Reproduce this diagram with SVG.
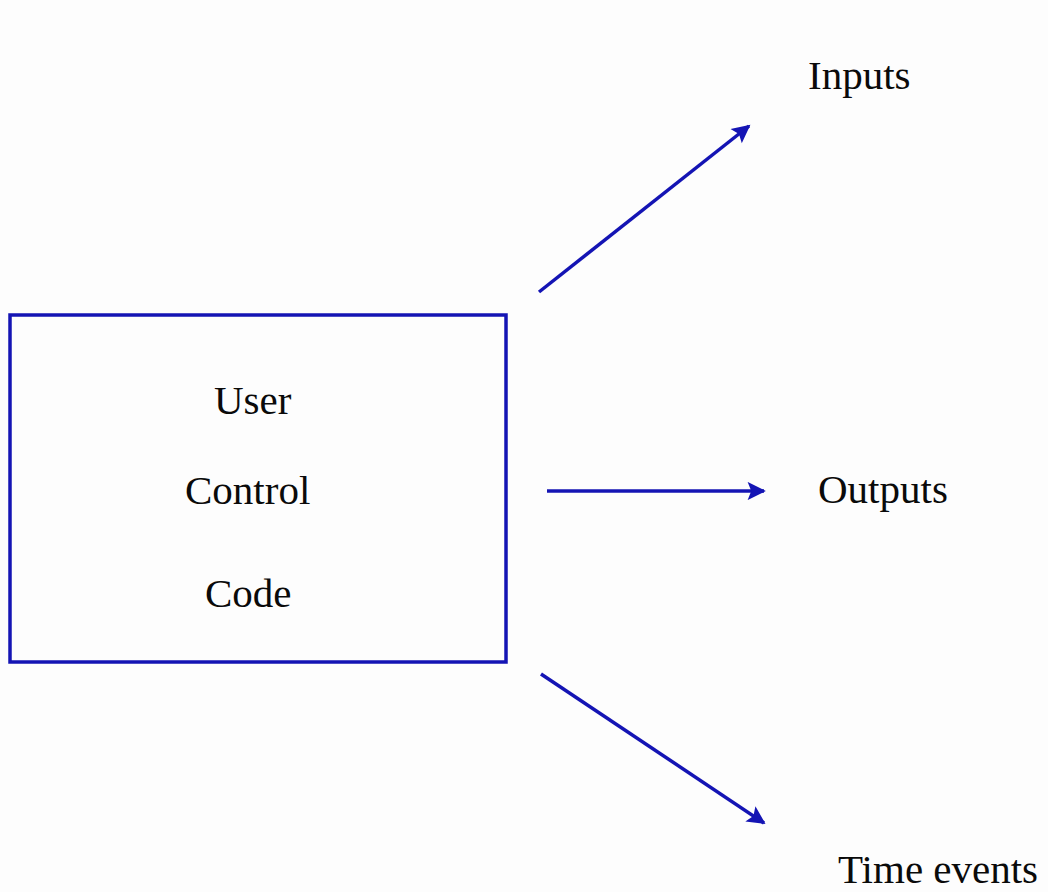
<svg xmlns="http://www.w3.org/2000/svg" width="1048" height="892" viewBox="0 0 1048 892">
  <style>
    .lbl { font-family: "Liberation Serif", "Times New Roman", serif; font-size: 41px; fill: #0a0a0a; }
    .box { fill: none; stroke: #1414b4; stroke-width: 3.5; }
    .conn { stroke: #1414b4; stroke-width: 3.5; fill: none; }
  </style>
  <defs>
    <marker id="arr" viewBox="0 0 10 10" refX="9" refY="5" markerWidth="6.2" markerHeight="5.2" markerUnits="strokeWidth" orient="auto">
      <path d="M0,0 L10,5 L0,10 L2,5 Z" fill="#1414b4"/>
    </marker>
  </defs>
  <rect width="1048" height="892" fill="#fdfdfd"/>
  <g id="node-control">
    <rect class="box" x="10" y="315" width="496" height="347"/>
    <text class="lbl" x="214" y="414">User</text>
    <text class="lbl" x="185" y="504">Control</text>
    <text class="lbl" x="205" y="607">Code</text>
  </g>
  <g id="node-inputs">
    <text class="lbl" x="808" y="89">Inputs</text>
  </g>
  <g id="node-outputs">
    <text class="lbl" x="818" y="503">Outputs</text>
  </g>
  <g id="node-time">
    <text class="lbl" x="838" y="883">Time events</text>
  </g>
  <g id="connectors">
    <line class="conn" x1="539" y1="292" x2="749" y2="126" marker-end="url(#arr)"/>
    <line class="conn" x1="547" y1="491" x2="764" y2="491" marker-end="url(#arr)"/>
    <line class="conn" x1="541" y1="674" x2="764" y2="823" marker-end="url(#arr)"/>
  </g>
</svg>
